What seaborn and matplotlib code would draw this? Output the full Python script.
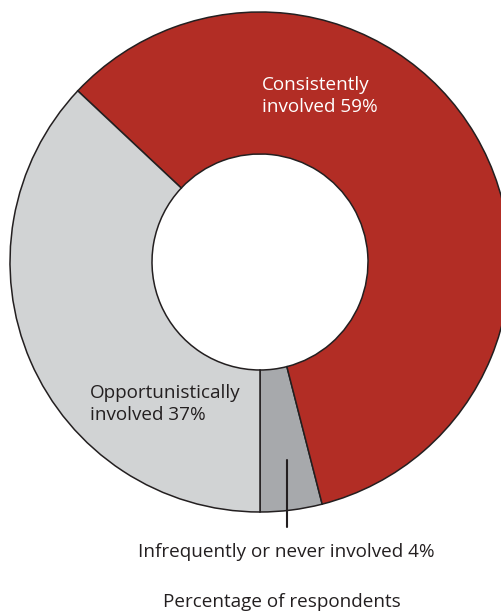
import matplotlib
matplotlib.use("Agg")
import matplotlib.pyplot as plt
import seaborn as sns

categories = ["Infrequently or never involved", "Consistently involved", "Opportunistically involved"]
values = [4, 59, 37]
colors = ["#A7A9AC", "#B22D25", "#D1D3D4"]
title = "Percentage of respondents"

sns.set_theme(style="white")
plt.rcParams['font.family'] = ['Open Sans', 'DejaVu Sans']

fig = plt.figure(figsize=(5.02, 6.13), dpi=100)
ax = fig.add_axes([0, 0, 1, 1])

cx, cy, R = 260, 613 - 262, 250
wedges, _ = ax.pie(values, colors=colors, startangle=-90, counterclock=True,
                   center=(cx, cy), radius=R, frame=True,
                   wedgeprops=dict(width=R - 108, edgecolor="#231F20", linewidth=1.1))
ax.set_xlim(0, 502)
ax.set_ylim(0, 613)
ax.set_aspect("equal")
ax.axis("off")

fs = 13.6
ax.text(262, 613 - 96, f"{categories[1].split()[0]}\n{categories[1].split()[1]} {values[1]}%",
        color="white", fontsize=fs, ha="left", va="center", linespacing=1.32)
ax.text(90, 613 - 404, f"{categories[2].split()[0]}\n{categories[2].split()[1]} {values[2]}%",
        color="#231F20", fontsize=fs, ha="left", va="center", linespacing=1.32)
ax.plot([287, 287], [613 - 460, 613 - 527], color="#231F20", lw=1.5)
ax.text(286, 613 - 552, f"{categories[0]} {values[0]}%", color="#231F20", fontsize=fs,
        ha="center", va="center")
ax.text(282, 613 - 602, title, color="#231F20", fontsize=fs, ha="center", va="center")

fig.savefig("out.png", dpi=100)
